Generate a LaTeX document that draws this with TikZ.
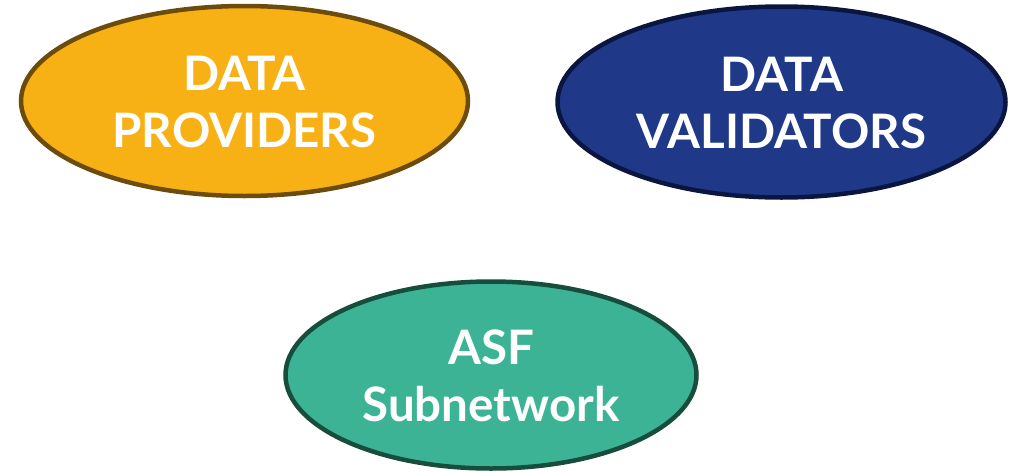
\documentclass[tikz,border=0pt]{standalone}
\usepackage{fontspec}
\setmainfont{Lato}
\usetikzlibrary{shapes.geometric}
\definecolor{provfill}{HTML}{F8B114}
\definecolor{provline}{HTML}{6B4C0C}
\definecolor{valfill}{HTML}{1F3888}
\definecolor{valline}{HTML}{0B1640}
\definecolor{asffill}{HTML}{3BB394}
\definecolor{asfline}{HTML}{174D3C}
\tikzset{
  blob/.style={ellipse, line width=4.5pt, inner sep=0pt},
  lbl/.style={text=white, font=\fontsize{47.5}{57}\selectfont\bfseries, align=center, inner sep=0pt}
}
\begin{document}
\begin{tikzpicture}[x=1pt,y=-1pt]
\useasboundingbox (0,0) rectangle (1023,472);
\node[blob, draw=provline, fill=provfill, minimum width=447pt, minimum height=190pt] (prov) at (244.5,101) {};
\node[blob, draw=valline, fill=valfill, minimum width=448pt, minimum height=191pt] (val) at (781.5,102) {};
\node[blob, draw=asfline, fill=asffill, minimum width=411pt, minimum height=187pt] (asf) at (491,375) {};
\node[lbl] (provT) at ([yshift=-1pt]prov.center) {DATA\\PROVIDERS};
\node[lbl] (valT) at ([yshift=-1pt]val.center) {DATA\\VALIDATORS};
\node[lbl] (asfT) at ([yshift=-1pt]asf.center) {ASF\\Subnetwork};
\end{tikzpicture}
\end{document}
